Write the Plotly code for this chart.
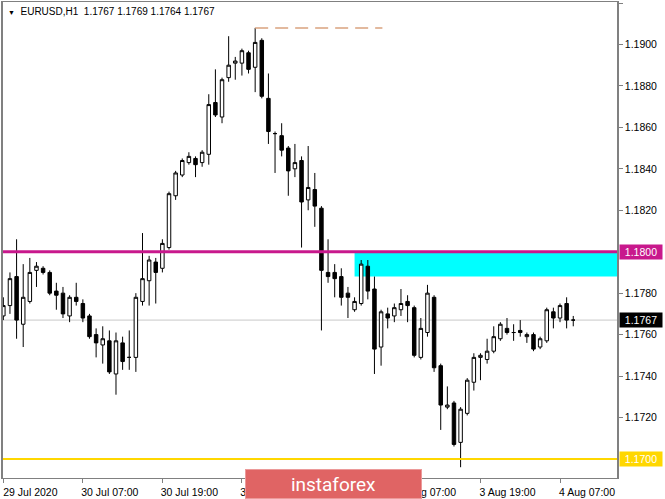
import pandas as pd
import plotly.graph_objects as go

# =====================================================
# Data: EURUSD H1, 29 Jul 19:00 -> 4 Aug 09:00 (weekend skipped)
# =====================================================
hours = list(pd.date_range("2020-07-29 19:00", "2020-07-31 23:00", freq="h")) + \
        list(pd.date_range("2020-08-03 00:00", "2020-08-04 09:00", freq="h"))
bars = [t.strftime("%d %b %H:%M") for t in hours]

opens = [1.1769, 1.1774, 1.1788, 1.1765, 1.1776, 1.1791, 1.1792, 1.1790, 1.1781, 1.1780,
         1.1769, 1.1778, 1.1775, 1.1769, 1.1760, 1.1755, 1.1757, 1.1741, 1.1756, 1.1749,
         1.1749, 1.1776, 1.1786, 1.1795, 1.1792, 1.1802, 1.1827, 1.1837, 1.1843, 1.1845,
         1.1843, 1.1847, 1.1872, 1.1865, 1.1884, 1.1891, 1.1891, 1.1896, 1.1889, 1.1902,
         1.1874, 1.1857, 1.1856, 1.1850, 1.1840, 1.1844, 1.1825, 1.1830, 1.1821, 1.1790,
         1.1790, 1.1788, 1.1780, 1.1772, 1.1775, 1.1793, 1.1782, 1.1754, 1.1770, 1.1769,
         1.1772, 1.1776, 1.1773, 1.1749, 1.1761, 1.1778, 1.1745, 1.1725, 1.1727, 1.1708,
         1.1722, 1.1737, 1.1749, 1.1748, 1.1752, 1.1758, 1.1763, 1.1761, 1.1762, 1.1759,
         1.1760, 1.1754, 1.1757, 1.1771, 1.1768, 1.1775, 1.1767]
highs = [1.1778, 1.1790, 1.1806, 1.1794, 1.1797, 1.1795, 1.1793, 1.1791, 1.1785, 1.1783,
         1.1779, 1.1785, 1.1777, 1.1770, 1.1763, 1.1764, 1.1762, 1.1761, 1.1759, 1.1762,
         1.1780, 1.1809, 1.1798, 1.1797, 1.1806, 1.1829, 1.1839, 1.1845, 1.1848, 1.1846,
         1.1849, 1.1876, 1.1888, 1.1884, 1.1904, 1.1894, 1.1898, 1.1897, 1.1908, 1.1903,
         1.1886, 1.1858, 1.1862, 1.1851, 1.1852, 1.1846, 1.1851, 1.1838, 1.1822, 1.1806,
         1.1794, 1.1792, 1.1783, 1.1778, 1.1796, 1.1796, 1.1788, 1.1772, 1.1773, 1.1775,
         1.1782, 1.1779, 1.1774, 1.1768, 1.1784, 1.1779, 1.1746, 1.1735, 1.1728, 1.1725,
         1.1739, 1.1751, 1.1751, 1.1758, 1.1764, 1.1766, 1.1768, 1.1765, 1.1767, 1.1761,
         1.1761, 1.1759, 1.1773, 1.1773, 1.1775, 1.1778, 1.1769]
lows = [1.1767, 1.1770, 1.1758, 1.1754, 1.1775, 1.1783, 1.1789, 1.1779, 1.1772, 1.1768,
        1.1766, 1.1774, 1.1766, 1.1758, 1.1749, 1.1746, 1.1741, 1.1731, 1.1743, 1.1743,
        1.1742, 1.1774, 1.1774, 1.1775, 1.1790, 1.1801, 1.1825, 1.1836, 1.1842, 1.1836,
        1.1841, 1.1842, 1.1865, 1.1862, 1.1882, 1.1883, 1.1885, 1.1886, 1.1877, 1.1874,
        1.1852, 1.1838, 1.1846, 1.1827, 1.1836, 1.1802, 1.1820, 1.1812, 1.1762, 1.1785,
        1.1778, 1.1774, 1.1768, 1.1771, 1.1774, 1.1777, 1.1741, 1.1745, 1.1763, 1.1766,
        1.1769, 1.1766, 1.1749, 1.1748, 1.1759, 1.1742, 1.1714, 1.1724, 1.1706, 1.1696,
        1.1721, 1.1733, 1.1738, 1.1746, 1.1751, 1.1757, 1.1760, 1.1757, 1.1759, 1.1756,
        1.1752, 1.1753, 1.1756, 1.1763, 1.1766, 1.1763, 1.1764]
closes = [1.1774, 1.1787, 1.1767, 1.1778, 1.1790, 1.1793, 1.1790, 1.1780, 1.1779, 1.1770,
          1.1778, 1.1776, 1.1768, 1.1759, 1.1756, 1.1758, 1.1742, 1.1757, 1.1747, 1.1749,
          1.1778, 1.1787, 1.1796, 1.1790, 1.1804, 1.1828, 1.1838, 1.1844, 1.1846, 1.1842,
          1.1848, 1.1871, 1.1866, 1.1883, 1.1890, 1.1892, 1.1897, 1.1888, 1.1901, 1.1875,
          1.1858, 1.1857, 1.1849, 1.1839, 1.1843, 1.1824, 1.1831, 1.1822, 1.1791, 1.1788,
          1.1787, 1.1778, 1.1778, 1.1776, 1.1794, 1.1781, 1.1753, 1.1771, 1.1768, 1.1773,
          1.1775, 1.1774, 1.1750, 1.1763, 1.1780, 1.1744, 1.1726, 1.1726, 1.1707, 1.1724,
          1.1738, 1.1749, 1.1750, 1.1752, 1.1759, 1.1765, 1.1761, 1.1761, 1.1761, 1.1760,
          1.1753, 1.1758, 1.1772, 1.1768, 1.1774, 1.1767, 1.1767]

# x labels (bar -> text) and price ticks on the right
tick_bars = ["29 Jul 19:00", "30 Jul 07:00", "30 Jul 19:00", "31 Jul 07:00",
             "31 Jul 19:00", "03 Aug 07:00", "03 Aug 19:00", "04 Aug 07:00"]
tick_text = ["29 Jul 2020", "30 Jul 07:00", "30 Jul 19:00", "31 Jul 07:00",
             "31 Jul 19:00", "3 Aug 07:00", "3 Aug 19:00", "4 Aug 07:00"]
price_ticks = [1.1920, 1.1900, 1.1880, 1.1860, 1.1840, 1.1820, 1.1780, 1.1760, 1.1740, 1.1720]

# horizontal levels / objects
resistance = 1.1800
support = 1.1700
last_price = 1.1767
zone_low, zone_high = 1.1788, 1.1800
zone_start = "03 Aug 00:00"
high_mark = 1.1908
high_start, high_end = "31 Jul 09:00", "03 Aug 04:00"

FONT = "Liberation Sans, Arial, sans-serif"
X_END = 92.6

# =====================================================
# Figure
# =====================================================
fig = go.Figure(go.Candlestick(
    x=bars, open=opens, high=highs, low=lows, close=closes,
    increasing=dict(line=dict(color="black", width=1), fillcolor="white"),
    decreasing=dict(line=dict(color="black", width=1), fillcolor="black"),
    whiskerwidth=0, hoverinfo="skip", showlegend=False,
))

idx = {b: i for i, b in enumerate(bars)}

# demand/supply zone (cyan) under the candles
fig.add_shape(type="rect", xref="x", yref="y", layer="below",
              x0=idx[zone_start], x1=X_END, y0=zone_low, y1=zone_high,
              fillcolor="#00FFFF", line_width=0)
# last price line
fig.add_shape(type="line", xref="paper", yref="y", layer="below",
              x0=0, x1=1, y0=last_price, y1=last_price,
              line=dict(color="#C8C8C8", width=1))
# levels
fig.add_shape(type="line", xref="paper", yref="y", layer="above",
              x0=0, x1=1, y0=resistance, y1=resistance,
              line=dict(color="#C8188C", width=3))
fig.add_shape(type="line", xref="paper", yref="y", layer="above",
              x0=0, x1=1, y0=support, y1=support,
              line=dict(color="#FFD700", width=2))
# dashed high marker
fig.add_shape(type="line", xref="x", yref="y", layer="above",
              x0=idx[high_start], x1=idx[high_end] + 0.2, y0=high_mark, y1=high_mark,
              line=dict(color="#D9A27F", width=1.5, dash="13px,7px"))

# right-side price boxes
for val, bg in [(resistance, "#C8188C"), (last_price, "black"), (support, "#FFD700")]:
    fig.add_annotation(x=1, xref="paper", y=val, yref="y", xanchor="left", xshift=2,
                       text=f"{val:.4f}", showarrow=False, bgcolor=bg,
                       width=40, height=12, borderpad=1,
                       font=dict(family=FONT, size=10.5, color="white"))

# symbol header
fig.add_annotation(x=0, xref="paper", y=1, yref="paper", xanchor="left", yanchor="top",
                   xshift=3, yshift=-2, showarrow=False,
                   text='<span style="font-size:7px">▼</span>  EURUSD,H1  1.1767 1.1769 1.1764 1.1767',
                   font=dict(family=FONT, size=10, color="black"))

# watermark (annotation box so it sits over the axis labels)
fig.add_annotation(x=0.5383, xref="paper", y=-0.0126, yref="paper", showarrow=False,
                   xanchor="center", yanchor="middle",
                   text="instaforex", width=175, height=28, borderpad=0,
                   bgcolor="#E06464", bordercolor="#EC9A9A", borderwidth=1,
                   font=dict(family="Roboto", size=19, color="white"))

fig.update_layout(
    width=665, height=499,
    margin=dict(l=3, r=48, t=2, b=21, autoexpand=False),
    paper_bgcolor="white", plot_bgcolor="white",
    font=dict(family=FONT, size=10.5, color="black"),
    boxgap=0.25,
    xaxis=dict(type="category", range=[-0.05, X_END], rangeslider=dict(visible=False),
               tickmode="array", tickvals=tick_bars, ticktext=tick_text,
               ticklabelshift=27, ticks="outside", ticklen=4, tickcolor="#808080",
               showgrid=False, zeroline=False, showline=True, linecolor="#808080",
               linewidth=1, mirror=True, fixedrange=True, automargin=False),
    yaxis=dict(side="right", range=[1.16908, 1.19205], tickmode="array",
               tickvals=price_ticks, tickformat=".4f", ticks="outside", ticklen=4,
               tickcolor="#808080", showgrid=False, zeroline=False, showline=True,
               linecolor="#808080", linewidth=1.5, mirror=True, fixedrange=True,
               automargin=False),
)

# page body has a default 8px margin; drop it so the figure sits at 0,0
fig.write_html("out.html", config={"displayModeBar": False},
               post_script="document.body.style.margin='0';document.body.style.padding='0';")
